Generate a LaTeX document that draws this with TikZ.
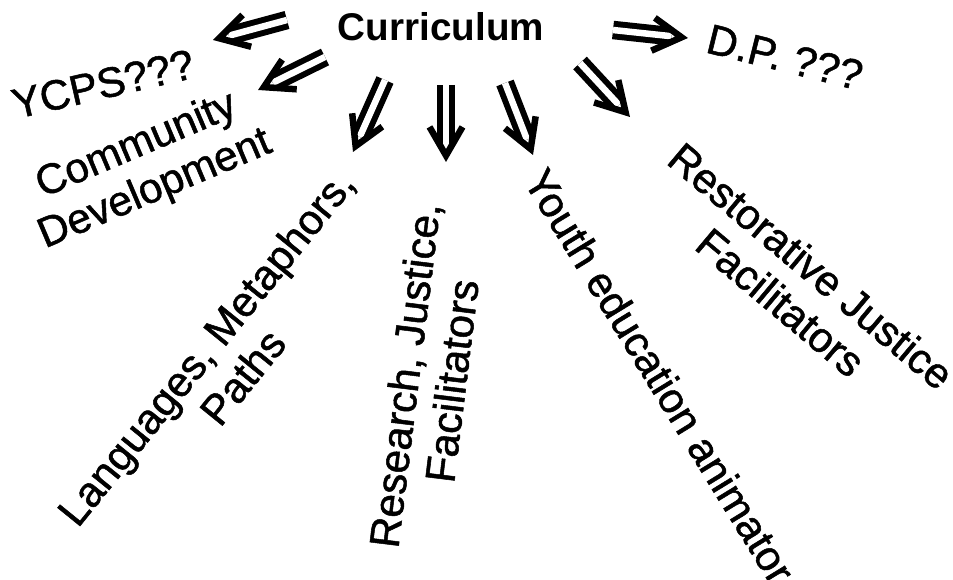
\documentclass[tikz,border=0pt]{standalone}
\usepackage{fontspec}
\setmainfont{Liberation Sans}
\newfontfamily\lblfont{Liberation Sans}[FakeBold=1.2]
\usetikzlibrary{calc}
\usetikzlibrary{math}

\begin{document}
\begin{tikzpicture}[x=0.02cm, y=-0.02cm,
    lbl/.style={font=\lblfont\fontsize{24}{27}\selectfont, align=center, inner sep=0pt},
    shaft/.style={draw, line width=\lw cm, double distance=\gap cm},
    wing/.style={draw, line width=\wlw cm, line join=miter}]
      \tikzmath{
        \lw = 0.12;
        \gap = 0.13;
        \wlw = 0.13;
        \wl = 0.66;
        \wa = 30;
      }

      \useasboundingbox (0,0) rectangle (953,580);

      \node[font=\bfseries\fontsize{22}{26}\selectfont, inner sep=0pt] (Cur) at (441,27) {Curriculum};

      \node[lbl, rotate=13] (Ycps) at (103,84) {YCPS???};
      \node[lbl, rotate=23] (Com) at (146,168) {Community\\Development};
      \node[lbl, rotate=-14] (DP) at (785,57) {D.P. ???};
      \node[lbl, rotate=51] (Lang) at (224,362) {Languages, Metaphors,\\Paths};
      \node[lbl, rotate=83] (Res) at (428,378) {Research, Justice,\\Facilitators};
      \node[lbl, rotate=-58.5] (Youth) at (660,376) {Youth education animator};
      \node[lbl, rotate=-40] (Rest) at (796,284) {Restorative Justice\\Facilitators};

      \coordinate (Ys) at (287,20);  \coordinate (Ye) at (213,40);
      \coordinate (Cs) at (325,57);  \coordinate (Ce) at (258,90);
      \coordinate (Ls) at (385,80);  \coordinate (Le) at (353,152);
      \coordinate (Rs) at (446,85);  \coordinate (Re) at (446,162);
      \coordinate (Us) at (505,83);  \coordinate (Ue) at (533,155);
      \coordinate (Ts) at (580,63);  \coordinate (Te) at (630,117);
      \coordinate (Ds) at (613,30);  \coordinate (De) at (688,38);

      % double shaft, then the open head
      \foreach \s/\e in {Ys/Ye, Cs/Ce, Ls/Le, Rs/Re, Us/Ue, Ts/Te, Ds/De} {
        \coordinate (tip) at ($(\e)!0.13cm!(\s)$);
        \draw[shaft] (\s) -- ($(tip)!0.2cm!(\s)$);
        \draw[wing] ($(tip)!\wl cm!\wa:(\s)$) -- (tip) -- ($(tip)!\wl cm!-\wa:(\s)$);
      }
\end{tikzpicture}
\end{document}
